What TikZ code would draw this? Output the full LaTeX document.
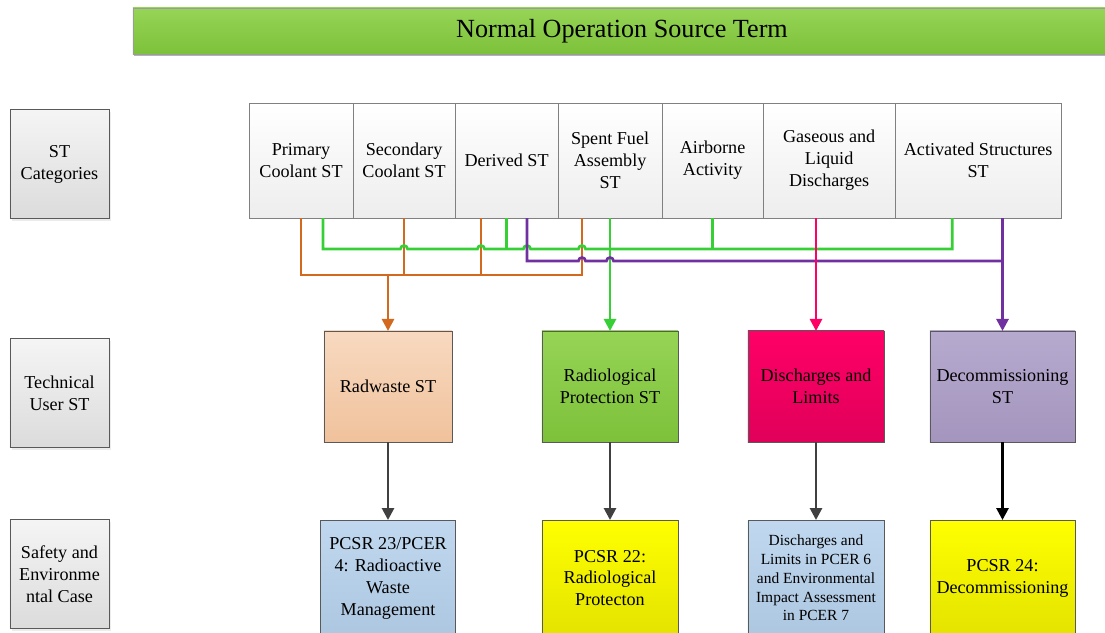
\documentclass[tikz,border=0pt]{standalone}
\usepackage{fontspec}
\setmainfont{Liberation Serif}
\usetikzlibrary{arrows.meta,positioning,shadows}
\definecolor{linegrey}{HTML}{595959}
\definecolor{arrowgrey}{HTML}{404040}
\definecolor{wireorange}{HTML}{D2691E}
\definecolor{wiregreen}{HTML}{36CF36}
\definecolor{wirepurple}{HTML}{7030A0}
\definecolor{wirepink}{HTML}{FF0066}
\definecolor{greentop}{HTML}{96D456}
\definecolor{greenbottom}{HTML}{7DC13A}
\definecolor{peachtop}{HTML}{F8D9C0}
\definecolor{peachbottom}{HTML}{F0C29C}
\definecolor{pinktop}{HTML}{FF0066}
\definecolor{pinkbottom}{HTML}{E0005A}
\definecolor{lilactop}{HTML}{B7AACF}
\definecolor{lilacbottom}{HTML}{A395BD}
\definecolor{bluetop}{HTML}{C0D8EF}
\definecolor{bluebottom}{HTML}{ADC7E1}
\definecolor{yellowtop}{HTML}{FFFF00}
\definecolor{yellowbottom}{HTML}{E3E300}
\newcommand{\hopover}[2]{-- (#1-3.5,#2) arc[start angle=180,end angle=0,radius=0.0875cm]}

\begin{document}
\begin{tikzpicture}[
    x=0.025cm, y=-0.025cm,
    every node/.style={font=\fontsize{12.9}{15.6}\selectfont},
    basebox/.style={
        draw=linegrey,
        align=center,
        inner sep=2pt,
        outer sep=0pt
    },
    titlebar/.style={
        basebox,
        draw=linegrey!60,
        top color=greentop,
        bottom color=greenbottom,
        minimum width=24.45cm,
        minimum height=1.15cm,
        font=\fontsize{18.6}{22}\selectfont,
        drop shadow={shadow xshift=0.03cm, shadow yshift=-0.05cm, opacity=0.6}
    },
    rowlabel/.style={
        basebox,
        top color=black!4,
        bottom color=black!14,
        minimum width=2.475cm,
        minimum height=2.725cm,
        drop shadow={shadow xshift=0.06cm, shadow yshift=-0.06cm, opacity=0.15}
    },
    catbox/.style={
        basebox,
        draw=gray,
        top color=white,
        bottom color=black!7,
        minimum height=2.875cm
    },
    userbox/.style={basebox, minimum height=2.775cm},
    casebox/.style={basebox, minimum height=2.9cm},
    wire/.style={line width=1.9pt},
    wirearrow/.style={wire, -{Triangle[length=0.3cm, width=0.3cm]}}
]
    \useasboundingbox (0,0) rectangle (1105,632);

    \node[titlebar] (title) at (622,31) {Normal Operation Source Term};

    % row labels on the left
    \node[rowlabel] (catlabel) at (59.5,164) {ST\\Categories};
    \node[rowlabel] (userlabel) at (59.5,393) {Technical\\User ST};
    \node[rowlabel] (caselabel) at (59.5,574) {Safety and\\Environme\\ntal Case};

    % source term categories
    \node[catbox, minimum width=2.6cm, anchor=west] (primary) at (249,160.5)
        {Primary\\Coolant ST};
    \node[catbox, minimum width=2.55cm, right=0pt of primary] (secondary)
        {Secondary\\Coolant ST};
    \node[catbox, minimum width=2.575cm, right=0pt of secondary] (derived)
        {Derived ST};
    \node[catbox, minimum width=2.6cm, right=0pt of derived] (spentfuel)
        {Spent Fuel\\Assembly\\ST};
    \node[catbox, minimum width=2.525cm, right=0pt of spentfuel] (airborne)
        {Airborne\\Activity};
    \node[catbox, minimum width=3.3cm, right=0pt of airborne] (gaseous)
        {Gaseous and\\Liquid\\Discharges};
    \node[catbox, minimum width=4.15cm, right=0pt of gaseous] (activated)
        {Activated Structures\\ST};

    % technical users
    \node[userbox, minimum width=3.2cm, top color=peachtop, bottom color=peachbottom]
        (radwaste) at (388,386.5) {Radwaste ST};
    \node[userbox, minimum width=3.4cm, top color=greentop, bottom color=greenbottom]
        (radprot) at (610,386.5) {Radiological\\Protection ST};
    \node[userbox, minimum width=3.4cm, top color=pinktop, bottom color=pinkbottom]
        (limits) at (816,386.5) {Discharges and\\Limits};
    \node[userbox, minimum width=3.625cm, top color=lilactop, bottom color=lilacbottom]
        (decom) at (1002.5,386.5) {Decommissioning\\ST};

    % safety and environmental case
    \node[casebox, minimum width=3.375cm, below=1.95cm of radwaste,
        top color=bluetop, bottom color=bluebottom] (pcsr23)
        {PCSR 23/PCER\\4: Radioactive\\Waste\\Management};
    \node[casebox, minimum width=3.4cm, below=1.95cm of radprot,
        top color=yellowtop, bottom color=yellowbottom] (pcsr22)
        {PCSR 22:\\Radiological\\Protecton};
    \node[casebox, minimum width=3.4cm, below=1.95cm of limits,
        top color=bluetop, bottom color=bluebottom,
        font=\fontsize{11}{13.3}\selectfont] (pcer)
        {Discharges and\\Limits in PCER 6\\and Environmental\\Impact Assessment\\in PCER 7};
    \node[casebox, minimum width=3.625cm, below=1.95cm of decom,
        top color=yellowtop, bottom color=yellowbottom] (pcsr24)
        {PCSR 24:\\Decommissioning};

    % bus levels and taps
    \coordinate (greenbus) at (0,249);
    \coordinate (purplebus) at (0,261);
    \coordinate (orangebus) at (0,275);
    \coordinate (primary-g) at ([xshift=0.55cm]primary.south);
    \coordinate (derived-o) at ([xshift=-0.6375cm]derived.south);
    \coordinate (derived-p) at ([xshift=0.5125cm]derived.south);
    \coordinate (spentfuel-o) at ([xshift=-0.7cm]spentfuel.south);
    \coordinate (activated-g) at ([xshift=-0.65cm]activated.south);

    % radwaste feeds
    \draw[wire, wireorange] (primary.south) |- (spentfuel-o |- orangebus) -- (spentfuel-o);
    \draw[wire, wireorange] (secondary.south) -- (secondary.south |- orangebus);
    \draw[wire, wireorange] (derived-o) -- (derived-o |- orangebus);
    \draw[wirearrow, wireorange] (radwaste.north |- orangebus) -- (radwaste.north);

    % radiological protection feeds
    \draw[wire, wiregreen] (primary-g) -- (primary-g |- greenbus)
        \hopover{404}{249} \hopover{481}{249} \hopover{527}{249} \hopover{582}{249}
        -- (activated-g |- greenbus) -- (activated-g);
    \draw[wire, wiregreen] (derived.south) -- (derived.south |- greenbus);
    \draw[wire, wiregreen] (airborne.south) -- (airborne.south |- greenbus);
    \draw[wirearrow, wiregreen] (spentfuel.south -| radprot.north) -- (radprot.north);

    % decommissioning feeds
    \draw[wire, wirepurple] (derived-p) -- (derived-p |- purplebus)
        \hopover{582}{261} \hopover{610}{261}
        -- (decom.north |- purplebus);
    \draw[wirearrow, wirepurple] (activated.south -| decom.north) -- (decom.north);

    % discharges feed
    \draw[wirearrow, wirepink] (gaseous.south -| limits.north) -- (limits.north);

    % users to case
    \draw[wirearrow, arrowgrey] (radwaste) -- (pcsr23);
    \draw[wirearrow, arrowgrey] (radprot) -- (pcsr22);
    \draw[wirearrow, arrowgrey] (limits) -- (pcer);
    \draw[wirearrow, black] (decom) -- (pcsr24);
\end{tikzpicture}
\end{document}
